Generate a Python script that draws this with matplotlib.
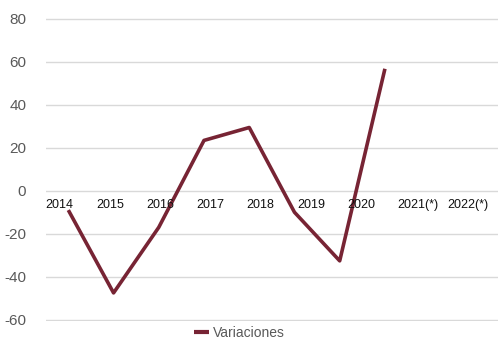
import matplotlib
matplotlib.use("Agg")
import matplotlib.pyplot as plt
import matplotlib.transforms as mtransforms
import numpy as np

# Data
line_positions = ["2014", "2015", "2016", "2017", "2018", "2019", "2020", "2021(*)", "2022(*)", ""]
variaciones = [-9, -47.5, -17, 23.4, 29.4, -10, -32.6, 56.7]
category_labels = ["2014", "2015", "2016", "2017", "2018", "2019", "2020", "2021(*)", "2022(*)"]
y_ticks = [-60, -40, -20, 0, 20, 40, 60, 80]

LINE_COLOR = "#772434"
GRID_COLOR = "#d9d9d9"
TEXT_GRAY = "#595959"

fig = plt.figure(figsize=(4.99, 3.40), dpi=100)
ax = fig.add_axes([0.0916, 0.055, 0.9064, 0.892])

x = np.arange(len(variaciones))
ax.plot(x, variaciones, color=LINE_COLOR, linewidth=2.6, solid_capstyle="butt",
        label="Variaciones", zorder=3)

ax.set_xlim(-0.5, len(line_positions) - 0.5)
ax.set_ylim(-60.7, 80.3)
ax.set_yticks(y_ticks)
ax.set_yticklabels([str(v) for v in y_ticks], fontsize=11, color=TEXT_GRAY,
                   family="Liberation Sans")
ax.tick_params(axis="y", length=0, pad=14)
ax.set_xticks([])
ax.grid(axis="y", color=GRID_COLOR, linewidth=1.0, zorder=0)
ax.set_axisbelow(True)
for s in ax.spines.values():
    s.set_visible(False)

# Category labels along the y = 0 line (left-aligned in equal slots)
ax2 = ax.twiny()
ax2.set_xlim(0, len(category_labels))
ax2.set_xticks([])
for s in ax2.spines.values():
    s.set_visible(False)
offset = mtransforms.ScaledTranslation(0, -6 / 72, fig.dpi_scale_trans)
for i, lab in enumerate(category_labels):
    ax2.text(i, 0, lab, ha="left", va="top", fontsize=9, color="#111111",
             family="Liberation Sans", transform=ax2.transData + offset, zorder=4)

leg = fig.legend(*ax.get_legend_handles_labels(), loc="center",
                 bbox_to_anchor=(0.48, 0.022), frameon=False,
                 handlelength=1.1, handletextpad=0.3, borderaxespad=0, borderpad=0,
                 prop={"family": "Liberation Sans", "size": 10})
for t in leg.get_texts():
    t.set_color(TEXT_GRAY)
for h in leg.get_lines():
    h.set_linewidth(3.0)

fig.savefig("out.png", dpi=100)
